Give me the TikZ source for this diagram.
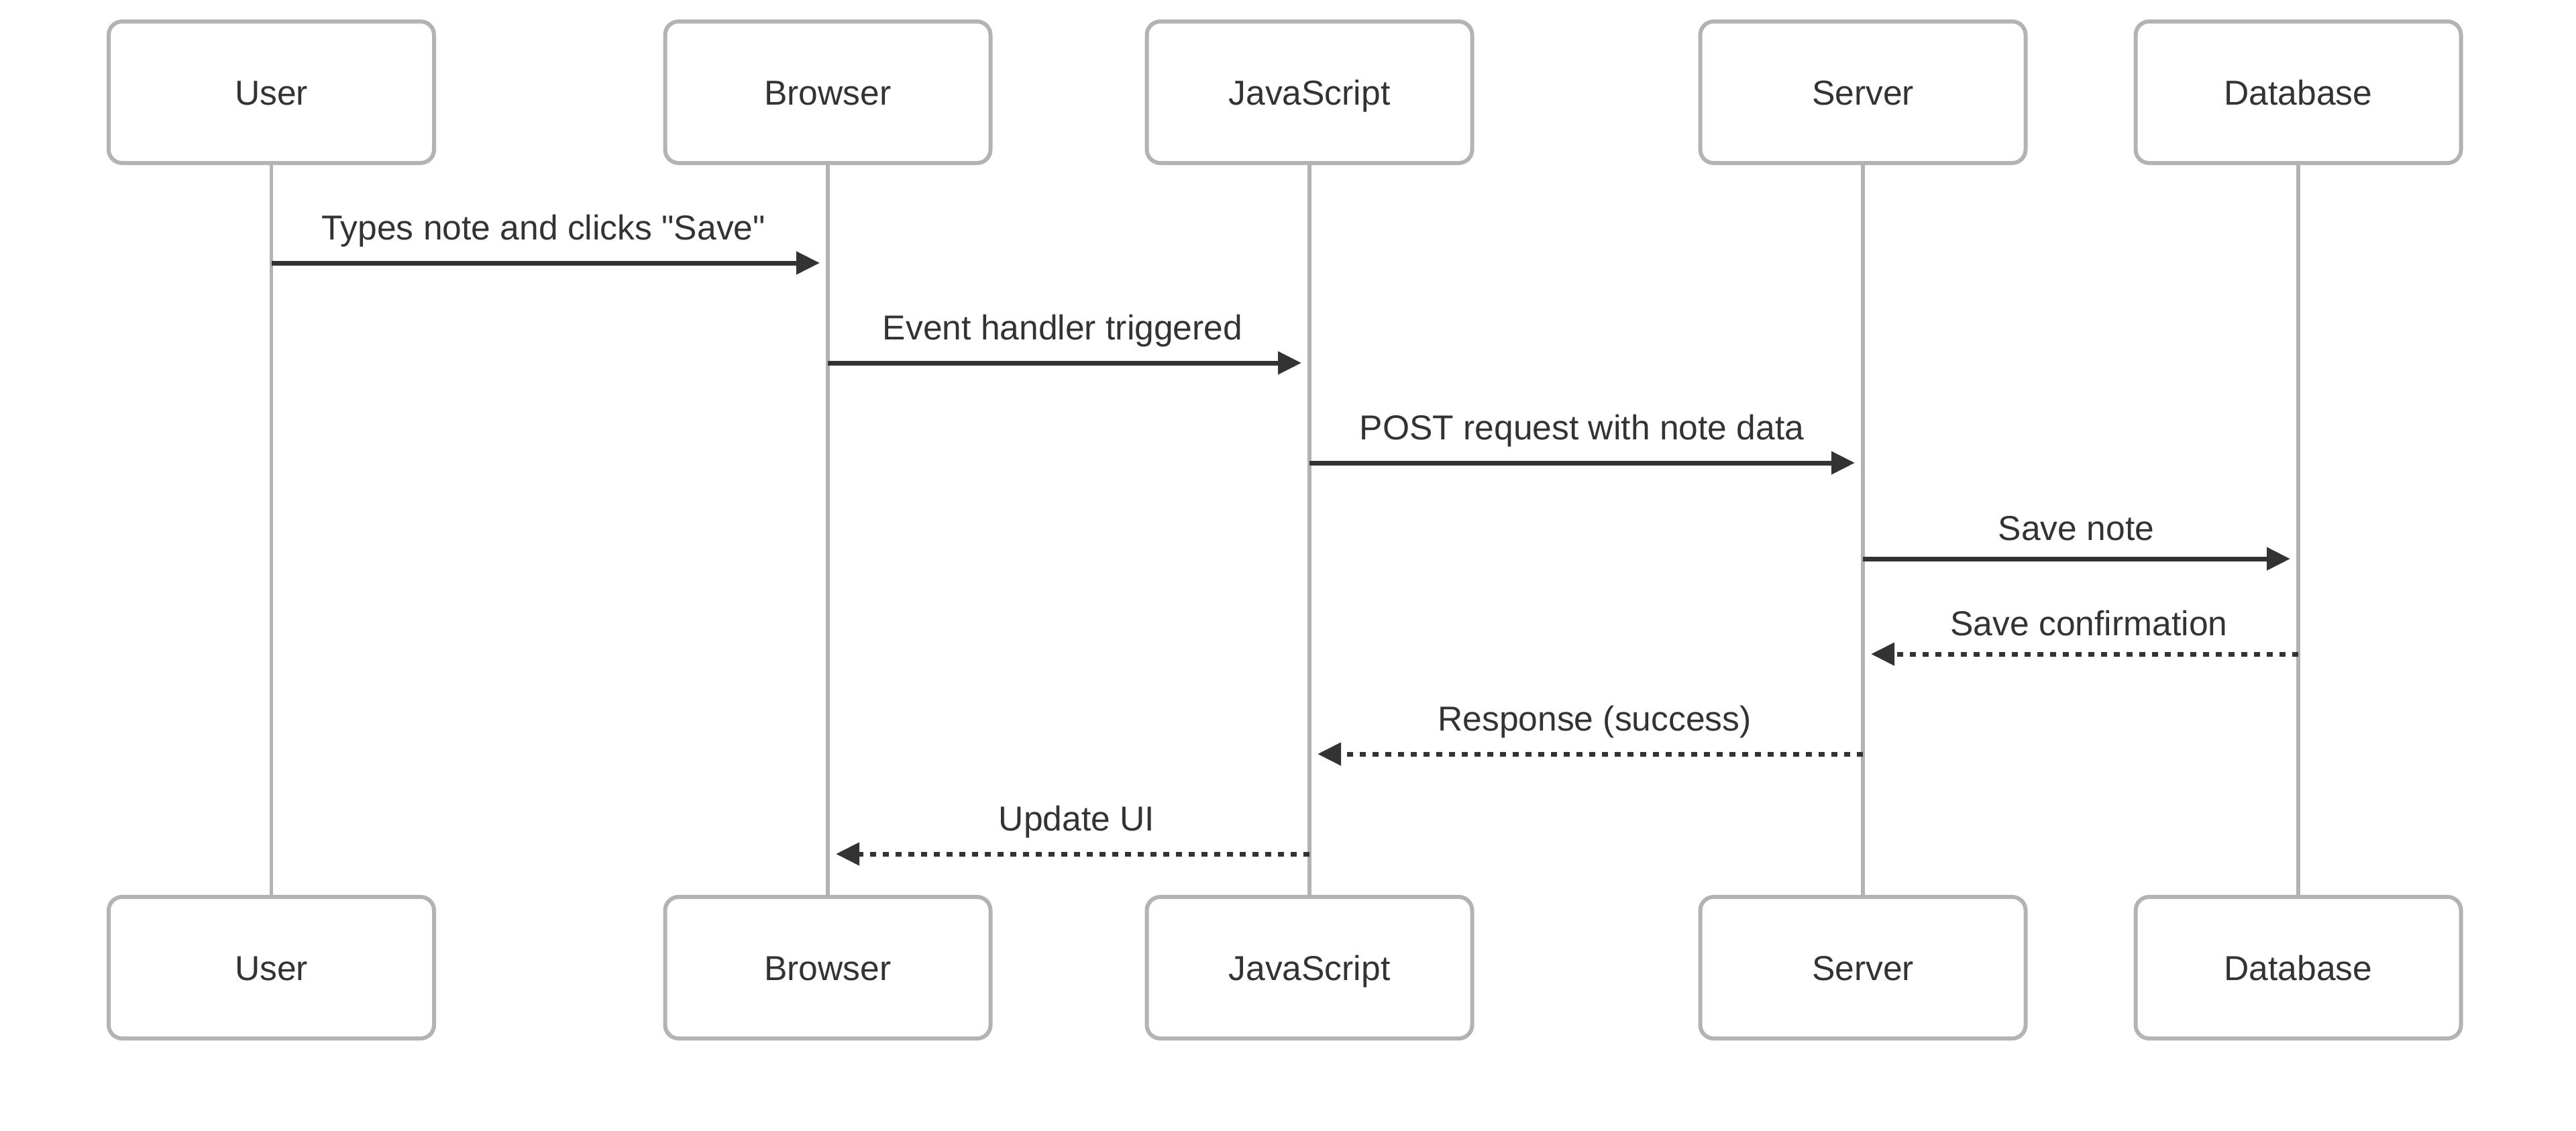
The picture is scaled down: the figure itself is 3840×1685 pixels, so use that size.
\documentclass[tikz,border=0pt]{standalone}
\usepackage{fontspec}
\setmainfont{Liberation Sans}[Ligatures=TeXOff]
\usetikzlibrary{arrows.meta}
\definecolor{bordergray}{HTML}{B3B3B3}
\definecolor{ink}{HTML}{333333}
\begin{document}
\begin{tikzpicture}[x=0.25pt,y=-0.25pt,
  actor/.style={draw=bordergray, line width=1.5pt, rounded corners=5pt, fill=white,
    minimum width=121.25pt, minimum height=52.75pt, inner sep=0pt,
    text height=9.25pt, text depth=0pt,
    font=\fontsize{12.9}{15}\selectfont, text=ink},
  life/.style={draw=bordergray, line width=1.4pt},
  msg/.style={draw=ink, line width=1.75pt, -{Triangle[length=8.75pt,width=8.25pt]}, shorten >=3pt},
  reply/.style={msg, dash pattern=on 2.25pt off 2.5pt},
  lbl/.style={font=\fontsize{12.9}{15}\selectfont, text=ink, anchor=base, inner sep=0pt}]
\useasboundingbox (0,0) rectangle (3840,1685);
% lifelines first (behind boxes)
\foreach \n/\x in {u/404.5, b/1234, j/1952, s/2777, d/3426}{
  \coordinate (\n top) at (\x,243);
  \coordinate (\n bot) at (\x,1337);
}
\draw[life] (utop) -- (ubot);
\draw[life] (btop) -- (bbot);
\draw[life] (jtop) -- (jbot);
\draw[life] (stop) -- (sbot);
\draw[life] (dtop) -- (dbot);
% actor boxes
\node[actor] (uT) at (404.5,137.5) {User};
\node[actor] (bT) at (1234,137.5) {Browser};
\node[actor] (jT) at (1952,137.5) {JavaScript};
\node[actor] (sT) at (2777,137.5) {Server};
\node[actor] (dT) at (3426,137.5) {Database};
\node[actor] (uB) at (404.5,1442.5) {User};
\node[actor] (bB) at (1234,1442.5) {Browser};
\node[actor] (jB) at (1952,1442.5) {JavaScript};
\node[actor] (sB) at (2777,1442.5) {Server};
\node[actor] (dB) at (3426,1442.5) {Database};
% messages
\draw[msg] (uT |- 0,392) -- (bT |- 0,392);
\node[lbl] (l1) at (810,357) {Types note and clicks "Save"};
\draw[msg] (bT |- 0,541) -- (jT |- 0,541);
\node[lbl] (l2) at (1584,506) {Event handler triggered};
\draw[msg] (jT |- 0,690) -- (sT |- 0,690);
\node[lbl] (l3) at (2358,655) {POST request with note data};
\draw[msg] (sT |- 0,833) -- (dT |- 0,833);
\node[lbl] (l4) at (3095,805) {Save note};
\draw[reply] (dT |- 0,975) -- (sT |- 0,975);
\node[lbl] (l5) at (3114,947) {Save confirmation};
\draw[reply] (sT |- 0,1124) -- (jT |- 0,1124);
\node[lbl] (l6) at (2377,1089) {Response (success)};
\draw[reply] (jT |- 0,1273) -- (bT |- 0,1273);
\node[lbl] (l7) at (1605,1238) {Update UI};
\end{tikzpicture}
\end{document}
